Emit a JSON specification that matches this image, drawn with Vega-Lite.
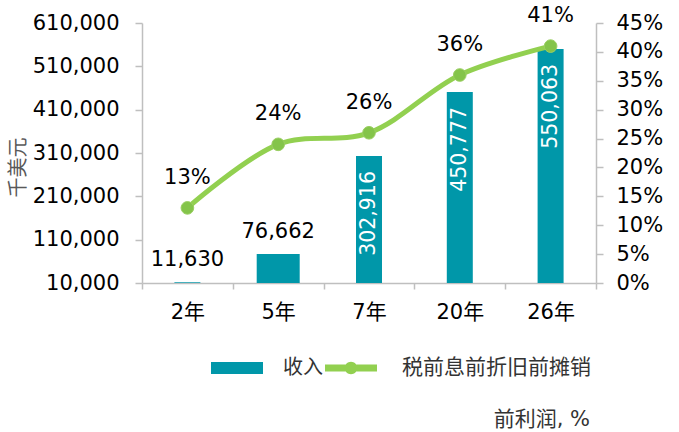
{
  "$schema": "https://vega.github.io/schema/vega-lite/v6.json",
  "width": 454,
  "height": 260,
  "autosize": {"type": "none"},
  "padding": {"left": 142, "top": 23, "right": 83, "bottom": 149},
  "background": "white",
  "title": {
    "text": "前利润, %",
    "orient": "bottom",
    "anchor": "end",
    "frame": "group",
    "offset": 31,
    "dx": -6,
    "fontSize": 21,
    "fontWeight": "normal",
    "color": "#333333",
    "font": "DejaVu Sans, Noto Sans CJK SC"
  },
  "data": {
    "values": [
      {"year": "2年", "revenue": 11630, "margin": 0.13},
      {"year": "5年", "revenue": 76662, "margin": 0.24},
      {"year": "7年", "revenue": 302916, "margin": 0.26},
      {"year": "20年", "revenue": 450777, "margin": 0.36},
      {"year": "26年", "revenue": 550063, "margin": 0.41}
    ]
  },
  "encoding": {
    "x": {
      "field": "year",
      "type": "nominal",
      "sort": null,
      "scale": {"paddingInner": 0, "paddingOuter": 0},
      "axis": {
        "title": null,
        "labelAngle": 0,
        "tickBand": "extent",
        "domainColor": "#BFBFBF",
        "domainWidth": 1.5,
        "tickColor": "#BFBFBF",
        "tickWidth": 1.5,
        "tickSize": 6,
        "labelFontSize": 21,
        "labelPadding": 12,
        "labelColor": "#000000"
      }
    }
  },
  "layer": [
    {
      "encoding": {
        "y": {
          "field": "revenue",
          "type": "quantitative",
          "scale": {"domain": [10000, 610000], "zero": false, "nice": false},
          "axis": {
            "values": [10000, 110000, 210000, 310000, 410000, 510000, 610000],
            "format": ",.0f",
            "grid": false,
            "title": "千美元",
            "titleAngle": -90,
            "titleX": -124,
            "titleY": 144,
            "titleAlign": "center",
            "titleBaseline": "middle",
            "titleFontSize": 20,
            "titleFontWeight": "normal",
            "titleColor": "#595959",
            "labelFontSize": 21,
            "labelPadding": 16,
            "labelColor": "#000000",
            "domainColor": "#BFBFBF",
            "domainWidth": 1.5,
            "tickColor": "#BFBFBF",
            "tickWidth": 1.5,
            "tickSize": 7
          }
        }
      },
      "layer": [
        {
          "mark": {"type": "bar"},
          "encoding": {
            "y2": {"datum": 10000},
            "size": {"condition": {"test": "datum.year === '5年'", "value": 43}, "value": 26},
            "fill": {
              "datum": "收入",
              "scale": {"range": ["#0097A9"]},
              "legend": {
                "title": null,
                "orient": "none",
                "legendX": 69,
                "legendY": 319,
                "padding": 0,
                "symbolType": "M-1,-0.23H1V0.23H-1Z",
                "symbolSize": 2704,
                "symbolStrokeWidth": 0,
                "labelFontSize": 20,
                "labelOffset": 20,
                "labelLimit": 0,
                "labelColor": "#333333",
                "labelFont": "Noto Sans CJK SC"
              }
            }
          }
        },
        {
          "transform": [{"filter": "datum.revenue < 100000"}],
          "mark": {"type": "text", "fontSize": 21, "baseline": "middle", "dy": -22, "color": "#000000"},
          "encoding": {
            "text": {"field": "revenue", "type": "quantitative", "format": ","}
          }
        },
        {
          "transform": [{"filter": "datum.revenue >= 100000"}],
          "mark": {"type": "text", "fontSize": 20.5, "angle": 270, "align": "right", "baseline": "middle", "dx": -15, "color": "#FFFFFF"},
          "encoding": {
            "text": {"field": "revenue", "type": "quantitative", "format": ","}
          }
        }
      ]
    },
    {
      "encoding": {
        "y": {
          "field": "margin",
          "type": "quantitative",
          "scale": {"domain": [0, 0.45], "nice": false},
          "axis": {
            "orient": "right",
            "values": [0, 0.05, 0.1, 0.15, 0.2, 0.25, 0.3, 0.35, 0.4, 0.45],
            "format": ".0%",
            "grid": false,
            "title": null,
            "labelFontSize": 21,
            "labelPadding": 13,
            "labelColor": "#000000",
            "domainColor": "#BFBFBF",
            "domainWidth": 1.5,
            "tickColor": "#BFBFBF",
            "tickWidth": 1.5,
            "tickSize": 7
          }
        }
      },
      "layer": [
        {
          "mark": {"type": "line", "interpolate": "catmull-rom", "strokeWidth": 5, "strokeCap": "round"},
          "encoding": {
            "stroke": {
              "datum": "税前息前折旧前摊销",
              "scale": {"range": ["#92D050"]},
              "legend": {
                "title": null,
                "orient": "none",
                "legendX": 183,
                "legendY": 319,
                "padding": 0,
                "symbolType": "M-1,-0.13H1V0.13H-1Z M-0.24,0A0.24,0.24 0 1,1 0.24,0A0.24,0.24 0 1,1 -0.24,0Z",
                "symbolSize": 2704,
                "symbolFillColor": "#92D050",
                "symbolStrokeWidth": 0,
                "labelFontSize": 21,
                "labelOffset": 25,
                "labelLimit": 0,
                "labelColor": "#333333",
                "labelFont": "Noto Sans CJK SC"
              }
            }
          }
        },
        {
          "mark": {"type": "point", "filled": true, "size": 160, "color": "#84C44A", "stroke": "#9BCF63", "strokeWidth": 1, "opacity": 1},
          "encoding": {}
        },
        {
          "mark": {"type": "text", "fontSize": 21, "baseline": "middle", "dy": -30, "color": "#000000"},
          "encoding": {
            "text": {"field": "margin", "type": "quantitative", "format": ".0%"}
          }
        }
      ]
    }
  ],
  "resolve": {"scale": {"y": "independent"}},
  "config": {
    "view": {"stroke": null},
    "font": "DejaVu Sans, Noto Sans CJK SC",
    "axis": {"labelFont": "DejaVu Sans, Noto Sans CJK SC", "titleFont": "Noto Sans CJK SC"},
    "legend": {"labelFont": "Noto Sans CJK SC"}
  }
}
